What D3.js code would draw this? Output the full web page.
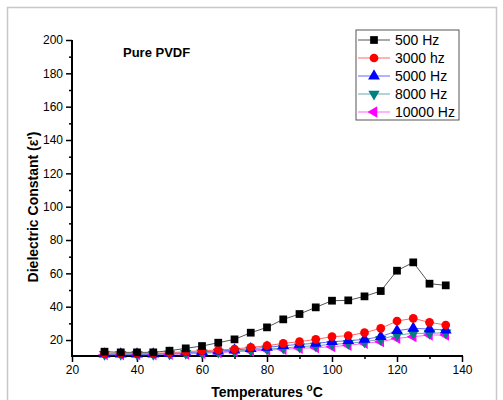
<!DOCTYPE html>
<html><head><meta charset="utf-8">
<script src="https://cdn.jsdelivr.net/npm/d3@7"></script>
<style>body{margin:0;background:#fff}svg{display:block}text{font-family:Arial,"Liberation Sans",sans-serif}</style>
</head><body><svg id="c" width="503" height="400"></svg>
<script>
const temps = [30,35,40,45,50,55,60,65,70,75,80,85,90,95,100,105,110,115,120,125,130,135];
const hz500   = [13,12.6,12.6,12.6,13.6,15,16.4,18.4,20.4,24.4,27.6,32.4,35.6,39.6,43.6,43.8,46.2,49.4,61.6,66.6,53.8,52.8];
const hz3000  = [12,12,12,12,12.4,13,13.6,14,14.6,15.6,16.6,18,19,20.4,22,22.6,24.4,27,31.4,33,30.6,29];
const hz5000  = [11.6,11.6,11.6,11.6,12,12.4,13,13.4,14,14.8,15.6,16.6,17.4,18,19,19.6,20.4,22,25.6,27,26.6,26];
const hz8000  = [11.4,11.4,11.4,11.4,11.6,12,12.4,12.8,13.4,14,14.6,15.2,16,16.6,17.4,18,19,20.4,23,24,24,24.4];
const hz10000 = [11.2,11.2,11.2,11.2,11.4,11.6,12,12.4,13,13.4,14,14.4,15,15.4,16,16.8,18,19,21,22,23,23];
const seriesNames = ["500 Hz","3000 hz","5000 Hz","8000 Hz","10000 Hz"];
const seriesData = [hz500,hz3000,hz5000,hz8000,hz10000];
const xTicks = [20,40,60,80,100,120,140];
const yTicks = [20,40,60,80,100,120,140,160,180,200];

const markerColors = ["#000000","#ff0000","#0000ff","#007f7f","#ff00ff"];
const lineColors = ["#555555","#ff6666","#6666ff","#66aaaa","#ff66ff"];
const symbols = [d3.symbolSquare, d3.symbolCircle, d3.symbolTriangle, d3.symbolTriangle, d3.symbolTriangle];
const rotations = [0,0,0,180,-90];
const sizes = [60,60,60,55,55];

const svg = d3.select("#c");
svg.append("rect").attr("x",7.5).attr("y",7.5).attr("width",489).attr("height",400).attr("fill","none").attr("stroke","#c8c8c8").attr("stroke-width",1.5);

const x = d3.scaleLinear().domain([20,140]).range([72,462]);
const y = d3.scaleLinear().domain([10,200]).range([356.7,40]);

// minor ticks
const gx = svg.append("g").attr("transform","translate(0,356)");
gx.call(d3.axisBottom(x).tickValues(d3.range(30,140,20)).tickSize(3).tickFormat(""));
gx.call(g=>g.selectAll(".domain").remove());
const gxM = svg.append("g").attr("transform","translate(0,356)")
  .call(d3.axisBottom(x).tickValues(xTicks).tickSize(6).tickPadding(3).tickFormat(d3.format("d")));
gxM.select(".domain").attr("stroke-width",2).attr("d","M71,0H463");
gxM.selectAll("text").attr("font-size",12).attr("fill","#000");
svg.selectAll("g line").attr("stroke","#000").attr("stroke-width",1.5);

const gy1 = svg.append("g").attr("transform","translate(72,0)")
  .call(d3.axisLeft(y).tickValues(d3.range(30,200,20)).tickSize(3).tickFormat(""));
gy1.select(".domain").remove();
const gy = svg.append("g").attr("transform","translate(72,0)")
  .call(d3.axisLeft(y).tickValues(yTicks).tickSize(6).tickPadding(3));
gy.select(".domain").attr("stroke-width",2).attr("d","M0,357H0V40");
gy.selectAll("text").attr("font-size",12).attr("fill","#000");
svg.selectAll("g.tick line").attr("stroke","#000").attr("stroke-width",1.5);

// series
const line = d3.line().x((d,i)=>x(temps[i])).y(d=>y(d));
[4,3,2,1,0].forEach(k=>{
  svg.append("path").datum(seriesData[k]).attr("d",line).attr("fill","none")
    .attr("stroke",lineColors[k]).attr("stroke-width",1);
});
[4,3,2,1,0].forEach(k=>{
  svg.append("g").selectAll("path").data(seriesData[k]).join("path")
    .attr("d",d3.symbol(symbols[k],sizes[k]))
    .attr("transform",(d,i)=>`translate(${x(temps[i])},${y(d)}) rotate(${rotations[k]})`)
    .attr("fill",markerColors[k]);
});

svg.append("text").attr("x",123).attr("y",57).attr("font-size",13).attr("font-weight","bold").text("Pure PVDF");

// legend
const lg = svg.append("g");
lg.append("rect").attr("x",356).attr("y",30).attr("width",103).attr("height",90).attr("fill","#fff").attr("stroke","#555").attr("stroke-width",1);
seriesNames.forEach((n,k)=>{
  const yy = 40 + k*18;
  lg.append("line").attr("x1",358).attr("x2",390).attr("y1",yy).attr("y2",yy).attr("stroke",lineColors[k]).attr("stroke-width",1);
  lg.append("path").attr("d",d3.symbol(symbols[k],sizes[k])).attr("transform",`translate(374,${yy}) rotate(${rotations[k]})`).attr("fill",markerColors[k]);
  lg.append("text").attr("x",395).attr("y",yy+5).attr("font-size",14).text(n);
});

// axis titles
svg.append("text").attr("transform","translate(38,207) rotate(-90)").attr("text-anchor","middle")
  .attr("font-size",14).attr("font-weight","bold").text("Dielectric Constant (ε')");
const xt = svg.append("text").attr("x",267).attr("y",397).attr("text-anchor","middle").attr("font-size",14).attr("font-weight","bold");
xt.append("tspan").text("Temperatures ");
xt.append("tspan").attr("font-size",10).attr("dy",-6).text("o");
xt.append("tspan").attr("dy",6).text("C");
</script></body></html>
